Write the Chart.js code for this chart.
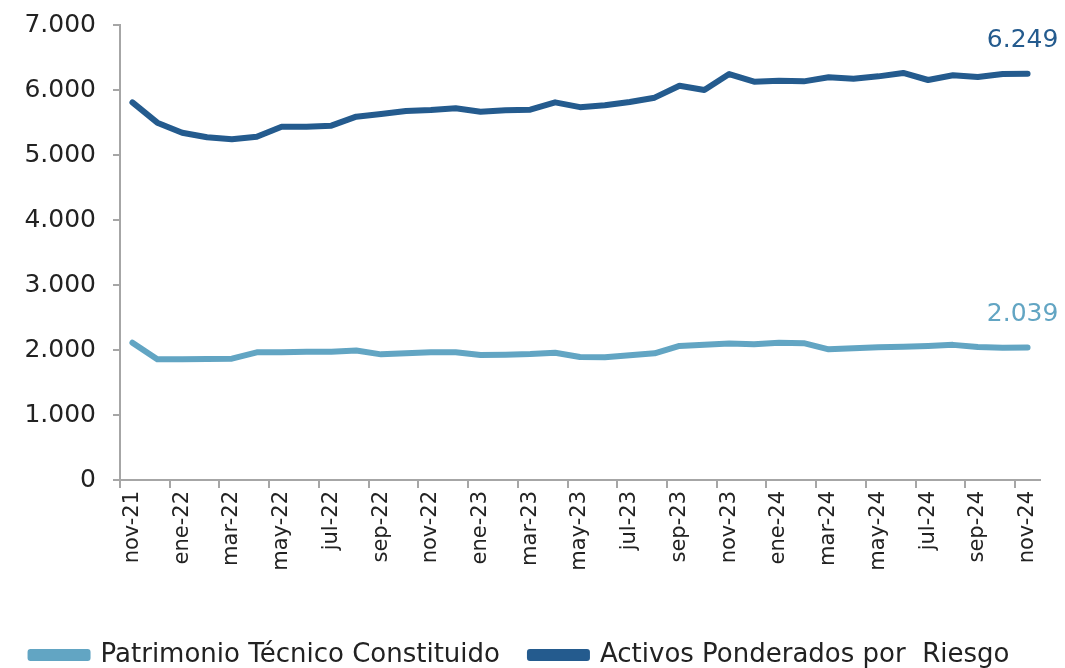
<!DOCTYPE html>
<html>
<head>
<meta charset="utf-8">
<script src="https://cdn.jsdelivr.net/npm/chart.js@4.4.1/dist/chart.umd.min.js"></script>
<style>
  html, body { margin: 0; padding: 0; background: #fff; }
  #wrap { width: 1065px; height: 668px; position: relative; }
</style>
</head>
<body>
<div id="wrap"><canvas id="capitalChart"></canvas></div>
<script>
// Monthly series, nov-21 .. nov-24
const months = [
    "nov-21", "dic-21", "ene-22", "feb-22", "mar-22", "abr-22", "may-22", "jun-22", "jul-22", "ago-22",
    "sep-22", "oct-22", "nov-22", "dic-22", "ene-23", "feb-23", "mar-23", "abr-23", "may-23", "jun-23",
    "jul-23", "ago-23", "sep-23", "oct-23", "nov-23", "dic-23", "ene-24", "feb-24", "mar-24", "abr-24",
    "may-24", "jun-24", "jul-24", "ago-24", "sep-24", "oct-24", "nov-24"
];

const patrimonioTecnico = [
    2113, 1858, 1858, 1860, 1866, 1964, 1964, 1972, 1974, 1993,
    1933, 1949, 1967, 1964, 1923, 1928, 1938, 1957, 1893, 1890,
    1918, 1949, 2062, 2082, 2100, 2087, 2110, 2105, 2010, 2026,
    2041, 2051, 2062, 2079, 2046, 2036, 2039
];

const activosPonderados = [
    5810, 5497, 5343, 5272, 5241, 5282, 5436, 5436, 5451, 5590,
    5631, 5677, 5692, 5718, 5666, 5687, 5697, 5810, 5736, 5764,
    5815, 5882, 6066, 6000, 6246, 6128, 6143, 6133, 6195, 6174,
    6210, 6262, 6154, 6226, 6200, 6246, 6249
];

const yTicks = [0, 1000, 2000, 3000, 4000, 5000, 6000, 7000];

const COLOR_PTC = "#62a5c3";
const COLOR_APR = "#245b8e";
const AXIS_GRAY = "#a6a6a6";
const TEXT = "#222222";
const FONT = "'DejaVu Sans', sans-serif";

function fmtMiles(v) {
    return String(Math.round(v)).replace(/\B(?=(\d{3})+(?!\d))/g, ".");
}

// writes the value of the last point above each line
const lastValueLabels = {
    id: "lastValueLabels",
    afterDatasetsDraw(chart) {
        const ctx = chart.ctx;
        ctx.save();
        ctx.font = "25px " + FONT;
        ctx.textAlign = "center";
        ctx.textBaseline = "middle";
        chart.data.datasets.forEach((ds, i) => {
            const meta = chart.getDatasetMeta(i);
            const last = meta.data[meta.data.length - 1];
            ctx.fillStyle = ds.borderColor;
            ctx.fillText(fmtMiles(ds.data[ds.data.length - 1]), last.x - 5, last.y - 33);
        });
        ctx.restore();
    }
};

new Chart(document.getElementById("capitalChart"), {
    type: "line",
    data: {
        labels: months,
        datasets: [
            {
                label: "Patrimonio Técnico Constituido",
                data: patrimonioTecnico,
                borderColor: COLOR_PTC,
                backgroundColor: COLOR_PTC,
                borderWidth: 6,
                borderCapStyle: "round",
                borderJoinStyle: "round",
                pointRadius: 0,
                tension: 0
            },
            {
                label: "Activos Ponderados por  Riesgo",
                data: activosPonderados,
                borderColor: COLOR_APR,
                backgroundColor: COLOR_APR,
                borderWidth: 6,
                borderCapStyle: "round",
                borderJoinStyle: "round",
                pointRadius: 0,
                tension: 0
            }
        ]
    },
    options: {
        responsive: true,
        maintainAspectRatio: false,
        animation: false,
        layout: { padding: { top: 25, right: 25, left: 0, bottom: -10 } },
        plugins: {
            tooltip: { enabled: false },
            legend: {
                position: "bottom",
                labels: {
                    color: TEXT,
                    font: { family: FONT, size: 26 },
                    boxWidth: 57,
                    boxHeight: 6,
                    padding: 30
                }
            }
        },
        scales: {
            x: {
                offset: true,
                grid: {
                    offset: true,
                    drawOnChartArea: false,
                    tickLength: 8,
                    lineWidth: 2,
                    color: ctx => (ctx.index % 2 === 0 ? AXIS_GRAY : "rgba(0,0,0,0)")
                },
                border: { display: true, color: AXIS_GRAY, width: 2 },
                ticks: {
                    autoSkip: false,
                    maxRotation: 90,
                    minRotation: 90,
                    padding: 3,
                    color: TEXT,
                    font: { family: FONT, size: 21 },
                    callback: function (val, idx) {
                        return idx % 2 === 0 ? this.getLabelForValue(val) : "";
                    }
                },
                afterFit: scale => {
                    scale.height = 132;
                    scale.paddingLeft = 0;
                    scale.paddingRight = 0;
                }
            },
            y: {
                min: 0,
                max: 7000,
                afterBuildTicks: scale => { scale.ticks = yTicks.map(v => ({ value: v })); },
                grid: {
                    drawOnChartArea: false,
                    tickLength: 7,
                    lineWidth: 2,
                    color: AXIS_GRAY
                },
                border: { display: true, color: AXIS_GRAY, width: 2 },
                ticks: {
                    padding: 17,
                    color: TEXT,
                    font: { family: FONT, size: 25 },
                    callback: v => fmtMiles(v)
                },
                afterFit: scale => {
                    scale.width = 120;
                    scale.paddingTop = 0;
                    scale.paddingBottom = 0;
                }
            }
        }
    },
    plugins: [lastValueLabels]
});
</script>
</body>
</html>
